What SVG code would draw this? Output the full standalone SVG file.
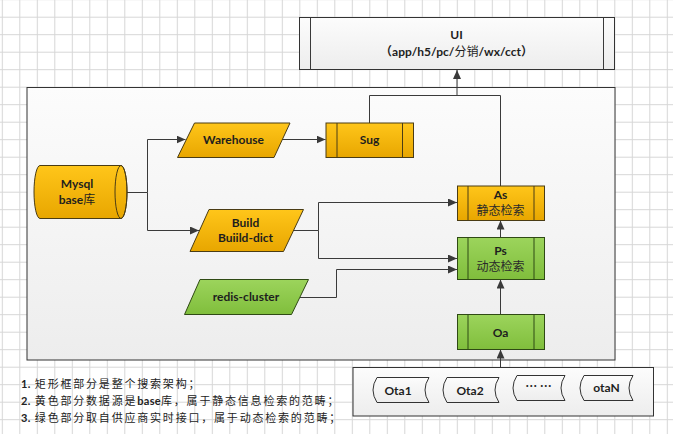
<svg xmlns="http://www.w3.org/2000/svg" width="673" height="434" viewBox="0 0 673 434">
<style>
.lbl{font-family:Lato,"Noto Sans CJK SC","Liberation Sans",sans-serif;font-weight:bold;font-size:12px;fill:#1e1e1e;text-anchor:middle}
.cjk{font-family:"Noto Sans CJK SC","Liberation Sans",sans-serif;font-weight:normal;font-size:12px;fill:#2a2a2a;text-anchor:middle}
.yel{fill:url(#gy);stroke:#4a3c14;stroke-width:1}
.grn{fill:url(#gg);stroke:#2f4a14;stroke-width:1}
.wb{fill:url(#gw);stroke:#333;stroke-width:1}
.conn{fill:none;stroke:#3a3a3a;stroke-width:1}
.arr{marker-end:url(#ah)}
.note{font-family:"Noto Sans CJK SC",sans-serif;font-size:11px;fill:#222;letter-spacing:1.8px}
.note tspan.b{font-family:Lato,"Noto Sans CJK SC",sans-serif;font-weight:bold;letter-spacing:0.3px}
</style>
<defs>
<pattern id="grid" width="17.5" height="17.5" x="1.8" y="-0.8" patternUnits="userSpaceOnUse">
<path d="M0.5 0 V17.5 M0 0.5 H17.5" stroke="#d6d6d6" stroke-width="1" fill="none"/>
</pattern>
<linearGradient id="gy" x1="0" y1="0" x2="0" y2="1"><stop offset="0" stop-color="#FFC61A"/><stop offset="1" stop-color="#E8A600"/></linearGradient>
<linearGradient id="gg" x1="0" y1="0" x2="0" y2="1"><stop offset="0" stop-color="#9CD45C"/><stop offset="1" stop-color="#80BE3C"/></linearGradient>
<linearGradient id="gw" x1="0" y1="0" x2="0" y2="1"><stop offset="0" stop-color="#FCFCFC"/><stop offset="1" stop-color="#EDEDED"/></linearGradient>
<marker id="ah" markerWidth="10" markerHeight="8" refX="9" refY="4" orient="auto" markerUnits="userSpaceOnUse">
<path d="M0 0 L9 4 L0 8 Z" fill="#3a3a3a"/>
</marker>
</defs>
<rect x="0" y="0" width="673" height="434" fill="#ffffff"/>
<rect x="0" y="0" width="673" height="434" fill="url(#grid)"/>

<g id="main-frame">
<rect x="27" y="87.5" width="588" height="272.5" class="wb"/>
</g>

<g id="ui">
<rect x="299.5" y="17.5" width="315" height="52" class="wb"/>
<path d="M310.5 17.5 V69.5 M603.5 17.5 V69.5" class="conn" stroke="#333"/>
<text x="456.5" y="39" class="lbl">UI</text>
<text x="456.5" y="56" class="lbl">（app/h5/pc/<tspan font-family="Noto Sans CJK SC" font-weight="normal">分销</tspan>/wx/cct）</text>
</g>

<g id="connectors">
<path d="M127 192.5 H147.5 V139.5 H185.5" class="conn arr"/>
<path d="M147.5 192.5 V230.5 H199" class="conn arr"/>
<path d="M282 139.5 H325.5" class="conn arr"/>
<path d="M369.5 123 V95.5 H457 V70" class="conn arr"/>
<path d="M500.5 186 V95.5 H457" class="conn"/>
<path d="M293.5 230.5 H318.5 V202.5 H457" class="conn arr"/>
<path d="M318.5 230.5 V258.5 H457" class="conn arr"/>
<path d="M300 297.5 H336.5 V269.5 H457" class="conn arr"/>
<path d="M500.5 237.5 V220.5" class="conn arr"/>
<path d="M500.5 314.5 V279.5" class="conn arr"/>
<path d="M500.5 367.5 V349.5" class="conn arr"/>
</g>

<g id="mysql">
<path d="M40 165.5 H121 A6 26.5 0 0 1 121 218.5 H40 A6 26.5 0 0 1 40 165.5 Z" class="yel"/>
<ellipse cx="121" cy="192" rx="6" ry="26.5" fill="none" stroke="#4a3c14"/>
<text x="77" y="188" class="lbl">Mysql</text>
<text x="77" y="203.5" class="lbl">base<tspan font-family="Noto Sans CJK SC" font-weight="normal">库</tspan></text>
</g>

<g id="warehouse">
<path d="M194.5 123 H290 L274 157.5 H177.5 Z" class="yel"/>
<text x="233.5" y="143.5" class="lbl">Warehouse</text>
</g>

<g id="sug">
<rect x="326" y="123" width="87.5" height="34.5" class="yel"/>
<path d="M337 123 V157.5 M402.5 123 V157.5" fill="none" stroke="#4a3c14"/>
<text x="369.5" y="143.5" class="lbl">Sug</text>
</g>

<g id="build">
<path d="M209 209.5 H303.5 L283.5 251.5 H190 Z" class="yel"/>
<text x="245.5" y="227" class="lbl">Build</text>
<text x="245.5" y="241.5" class="lbl">Buiild-dict</text>
</g>

<g id="redis">
<path d="M200 279.5 H308.5 L291.5 314.5 H184.5 Z" class="grn"/>
<text x="246" y="301" class="lbl">redis-cluster</text>
</g>

<g id="as">
<rect x="457.5" y="186" width="87" height="34.5" class="yel"/>
<path d="M468 186 V220.5 M534 186 V220.5" fill="none" stroke="#4a3c14"/>
<text x="500.5" y="198.5" class="lbl">As</text>
<text x="500.5" y="214.5" class="cjk">静态检索</text>
</g>

<g id="ps">
<rect x="457.5" y="237.5" width="87" height="42" class="grn"/>
<path d="M468 237.5 V279.5 M534 237.5 V279.5" fill="none" stroke="#2f4a14"/>
<text x="500.5" y="254.5" class="lbl">Ps</text>
<text x="500.5" y="271" class="cjk">动态检索</text>
</g>

<g id="oa">
<rect x="457.5" y="314.5" width="87" height="35" class="grn"/>
<path d="M468 314.5 V349.5 M534 314.5 V349.5" fill="none" stroke="#2f4a14"/>
<text x="500.5" y="336.5" class="lbl">Oa</text>
</g>

<g id="ota-group">
<rect x="353" y="367.5" width="300.5" height="48.5" class="wb"/>
</g>
<g id="ota1">
<path d="M377 377.5 H429 Q421 390 429 402.5 H377 Q369 390 377 377.5 Z" class="wb"/>
<text x="398" y="394.5" class="lbl">Ota1</text>
</g>
<g id="ota2">
<path d="M447 377.5 H499 Q491 390 499 402.5 H447 Q439 390 447 377.5 Z" class="wb"/>
<text x="470" y="394.5" class="lbl">Ota2</text>
</g>
<g id="ota-more">
<path d="M517 375.5 H565 Q557 388 565 400.5 H517 Q509 388 517 375.5 Z" class="wb"/>
<text x="538.5" y="391" class="cjk" style="font-weight:bold">… …</text>
</g>
<g id="otaN">
<path d="M584 375.5 H633 Q625 388 633 400.5 H584 Q576 388 584 375.5 Z" class="wb"/>
<text x="606.5" y="392" class="lbl">otaN</text>
</g>

<g id="notes">
<text x="21" y="388" class="note"><tspan class="b">1.</tspan> 矩形框部分是整个搜索架构；</text>
<text x="21" y="405" class="note"><tspan class="b">2.</tspan> 黄色部分数据源是<tspan class="b">base</tspan>库，属于静态信息检索的范畴；</text>
<text x="21" y="422" class="note"><tspan class="b">3.</tspan> 绿色部分取自供应商实时接口，属于动态检索的范畴；</text>
</g>
</svg>
